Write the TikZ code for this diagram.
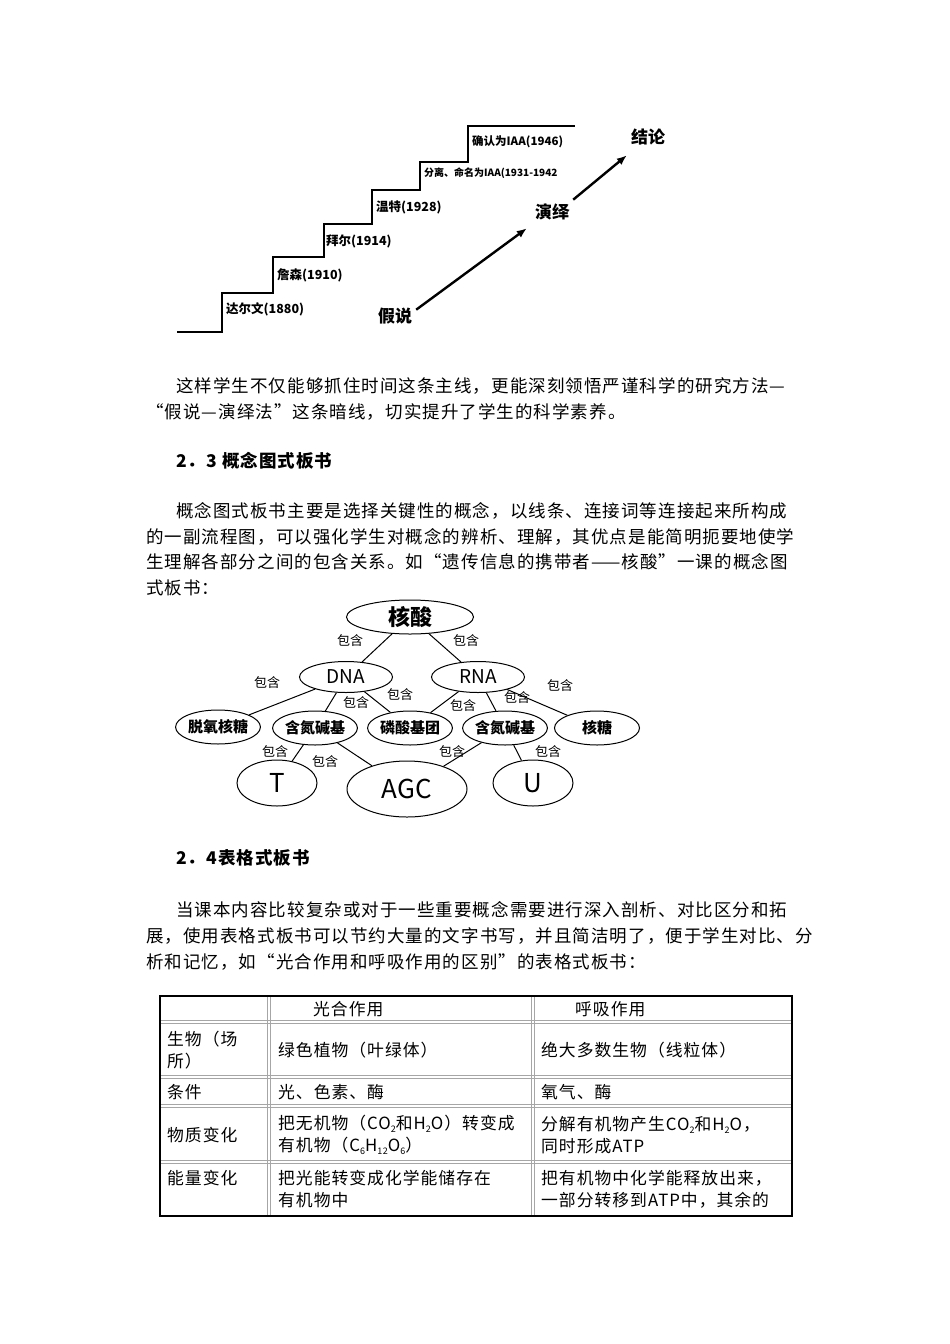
\documentclass[tikz,border=0pt]{standalone}
\usepackage{fontspec}
\setmainfont{Noto Sans CJK SC}
\newfontfamily\bodyf[LetterSpace=6]{Noto Sans CJK SC}
\usetikzlibrary{shapes.geometric,arrows.meta}
\newcommand{\mysub}[1]{\raisebox{-0.35ex}{\fontsize{9}{9}\selectfont #1}}
\begin{document}
\begin{tikzpicture}[x=1pt,y=-1pt,
 body/.style={anchor=west,inner sep=0,font=\bodyf\fontsize{17.5}{18}\selectfont},
 stp/.style={anchor=west,inner sep=0,font=\fontsize{12.5}{13}\selectfont\bfseries},
 ell/.style={ellipse,draw,line width=1pt,inner sep=0,font=\fontsize{15}{16}\selectfont\bfseries},
 bh/.style={inner sep=0,font=\fontsize{13}{14}\selectfont},
 cell/.style={anchor=west,inner sep=0,font=\bodyf\fontsize{16.8}{22}\selectfont,align=left},
 big/.style={-{Latex[length=10pt,width=8pt]},line width=2.4pt}]
\useasboundingbox (0,0) rectangle (950,1344);
\fill[white] (0,0) rectangle (950,1344);
% staircase
\draw[line width=2.4pt] (177,332) -- (222,332) -- (222,293) -- (273,293) -- (273,257) -- (324,257) -- (324,224) -- (372,224) -- (372,190) -- (420,190) -- (420,162) -- (468,162) -- (468,126) -- (575,126);
\node[stp] (s1) at (226,309) {达尔文(1880)};
\node[stp] (s2) at (277,275) {詹森(1910)};
\node[stp] (s3) at (326,241) {拜尔(1914)};
\node[stp] (s4) at (376,207) {温特(1928)};
\node[stp,font=\fontsize{10}{10}\selectfont\bfseries] (s5) at (424,173) {分离、命名为IAA(1931-1942};
\node[stp,font=\fontsize{11.5}{12}\selectfont\bfseries] (s6) at (472,142) {确认为IAA(1946)};
\node[inner sep=0,font=\fontsize{17}{17}\selectfont\bfseries] (h) at (395,316) {假说};
\node[inner sep=0,font=\fontsize{17}{17}\selectfont\bfseries] (y) at (552,212) {演绎};
\node[inner sep=0,font=\fontsize{17}{17}\selectfont\bfseries] (c) at (648,137) {结论};
\draw[big] ([shift={(4,2)}]h.north east) -- ([shift={(-8,8)}]y.south west);
\draw[big] ([shift={(4,-4)}]y.north east) -- ([shift={(-4,10)}]c.south west);
% paragraphs
\node[body] (p1) at (176,386) {这样学生不仅能够抓住时间这条主线，更能深刻领悟严谨科学的研究方法—};
\node[body] (p2) at (146,412) {“假说—演绎法”这条暗线，切实提升了学生的科学素养。};
\node[body,font=\bodyf\fontsize{17.5}{18}\selectfont\bfseries] (h1) at (176,461) {2．3 概念图式板书};
\node[body] (q1) at (176,511) {概念图式板书主要是选择关键性的概念，以线条、连接词等连接起来所构成};
\node[body] (q2) at (146,537) {的一副流程图，可以强化学生对概念的辨析、理解，其优点是能简明扼要地使学};
\node[body] (q3) at (146,562) {生理解各部分之间的包含关系。如“遗传信息的携带者——核酸”一课的概念图};
\node[body] (q4) at (146,588) {式板书：};
% concept map
\node[ell,minimum width=127,minimum height=34,font=\fontsize{22}{22}\selectfont\bfseries] (hs) at (410,617) {核酸};
\node[ell,minimum width=93,minimum height=31,font=\fontsize{19}{19}\selectfont] (dna) at (346,677) {DNA};
\node[ell,minimum width=93,minimum height=31,font=\fontsize{19}{19}\selectfont] (rna) at (478,677) {RNA};
\node[ell,minimum width=84,minimum height=34] (tyh) at (218,727) {脱氧核糖};
\node[ell,minimum width=84,minimum height=34] (hl) at (315,728) {含氮碱基};
\node[ell,minimum width=84,minimum height=34] (ls) at (410,728) {磷酸基团};
\node[ell,minimum width=84,minimum height=34] (hr) at (505,728) {含氮碱基};
\node[ell,minimum width=85,minimum height=34] (ht) at (597,728) {核糖};
\node[ell,minimum width=80,minimum height=46,font=\fontsize{26}{26}\selectfont] (t) at (277,783) {T};
\node[ell,minimum width=120,minimum height=56,font=\fontsize{26}{26}\selectfont] (agc) at (407,789) {AGC};
\node[ell,minimum width=80,minimum height=46,font=\fontsize{26}{26}\selectfont] (u) at (533,783) {U};
\draw[line width=1pt] (hs) -- (dna); \draw[line width=1pt] (hs) -- (rna);
\draw[line width=1pt] (dna) -- (tyh); \draw[line width=1pt] (dna) -- (hl); \draw[line width=1pt] (dna) -- (ls);
\draw[line width=1pt] (rna) -- (ls); \draw[line width=1pt] (rna) -- (hr); \draw[line width=1pt] (rna) -- (ht);
\draw[line width=1pt] (hl) -- (t); \draw[line width=1pt] (hl) -- (agc);
\draw[line width=1pt] (hr) -- (agc); \draw[line width=1pt] (hr) -- (u);
\node[bh] (b1) at (350,641) {包含};
\node[bh] (b2) at (466,641) {包含};
\node[bh] (b3) at (267,683) {包含};
\node[bh] (b4) at (356,703) {包含};
\node[bh] (b5) at (400,695) {包含};
\node[bh] (b6) at (463,706) {包含};
\node[bh] (b7) at (517,698) {包含};
\node[bh] (b8) at (560,686) {包含};
\node[bh] (b9) at (275,752) {包含};
\node[bh] (b10) at (325,762) {包含};
\node[bh] (b11) at (452,752) {包含};
\node[bh] (b12) at (548,752) {包含};
% section 2.4
\node[body,font=\bodyf\fontsize{17.5}{18}\selectfont\bfseries] (h2) at (176,858) {2．4表格式板书};
\node[body] (r1) at (176,910) {当课本内容比较复杂或对于一些重要概念需要进行深入剖析、对比区分和拓};
\node[body] (r2) at (146,936) {展，使用表格式板书可以节约大量的文字书写，并且简洁明了，便于学生对比、分};
\node[body] (r3) at (146,962) {析和记忆，如“光合作用和呼吸作用的区别”的表格式板书：};
% table
\foreach \yy in {1022,1077,1106,1162} {\draw[gray!70,line width=0.8pt] (160,\yy-1.5) -- (792,\yy-1.5); \draw[gray!70,line width=0.8pt] (160,\yy+1.5) -- (792,\yy+1.5);}
\foreach \xx in {269,533} {\draw[gray!70,line width=0.8pt] (\xx-1.5,996) -- (\xx-1.5,1216); \draw[gray!70,line width=0.8pt] (\xx+1.5,996) -- (\xx+1.5,1216);}
\draw[line width=1.6pt] (160,996) rectangle (792,1216);
\node[cell] (c01) at (313,1009) {光合作用};
\node[cell] (c02) at (575,1009) {呼吸作用};
\node[cell] (c10) at (167,1050) {生物（场\\所）};
\node[cell] (c11) at (278,1050) {绿色植物（叶绿体）};
\node[cell] (c12) at (541,1050) {绝大多数生物（线粒体）};
\node[cell] (c20) at (167,1092) {条件};
\node[cell] (c21) at (278,1092) {光、色素、酶};
\node[cell] (c22) at (541,1092) {氧气、酶};
\node[cell] (c30) at (167,1135) {物质变化};
\node[cell] (c31) at (278,1135) {把无机物（CO\mysub{2}和H\mysub{2}O）转变成\\有机物（C\mysub{6}H\mysub{12}O\mysub{6}）};
\node[cell] (c32) at (541,1135) {分解有机物产生CO\mysub{2}和H\mysub{2}O，\\同时形成ATP};
\node[cell] (c40) at (167,1178) {能量变化};
\node[cell] (c41) at (278,1189) {把光能转变成化学能储存在\\有机物中};
\node[cell] (c42) at (541,1189) {把有机物中化学能释放出来，\\一部分转移到ATP中，其余的};
\end{tikzpicture}
\end{document}
